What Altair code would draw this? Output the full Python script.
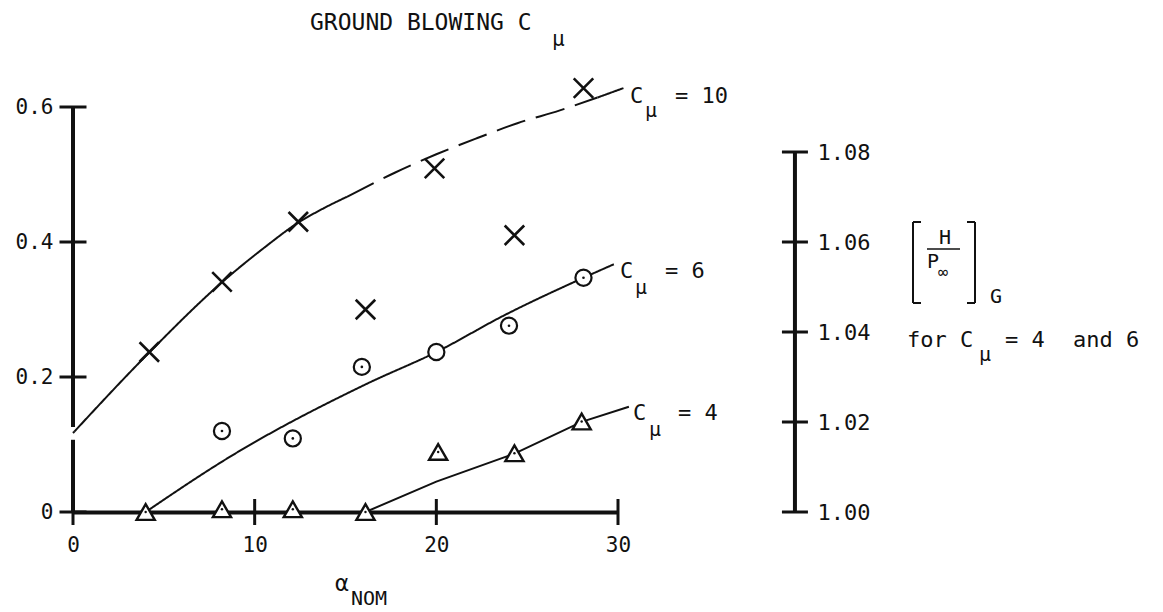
import altair as alt
import pandas as pd

FONT = "DejaVu Sans Mono"
BLACK = "#111111"

# ---------------- data ----------------
# C_mu = 10 (x markers)
X_ALPHA = [4.2, 8.2, 12.4, 16.1, 19.9, 24.3, 28.1]
X_VALUE = [0.237, 0.341, 0.430, 0.300, 0.509, 0.410, 0.628]

# C_mu = 6 (dotted circles)
CIRCLE_ALPHA = [8.2, 12.1, 15.9, 20.0, 24.0, 28.1]
CIRCLE_VALUE = [0.120, 0.109, 0.215, 0.237, 0.276, 0.347]
CIRCLE_DOT = [True, True, True, False, True, True]

# C_mu = 4 (dotted triangles)
TRI_ALPHA = [4.0, 8.2, 12.1, 16.1, 20.1, 24.3, 28.0]
TRI_VALUE = [0.0, 0.004, 0.004, 0.0, 0.089, 0.087, 0.134]

# faired curves
C10_SOLID1_ALPHA = [0.0, 4.24, 8.23, 10.5, 12.36, 13.8, 15.08]
C10_SOLID1_VALUE = [0.117, 0.2375, 0.341, 0.391, 0.428, 0.450, 0.467]
C10_DASHED_ALPHA = [15.08, 17.74, 20.0, 22.26, 24.46, 26.8, 28.87]
C10_DASHED_VALUE = [0.467, 0.503, 0.530, 0.554, 0.576, 0.595, 0.614]
C10_SOLID2_ALPHA = [28.87, 30.3]
C10_SOLID2_VALUE = [0.614, 0.628]

C6_ALPHA = [4.0, 8.65, 16.18, 20.04, 23.71, 28.1, 29.77]
C6_VALUE = [0.0, 0.082, 0.190, 0.2375, 0.291, 0.347, 0.367]

C4_ALPHA = [16.1, 20.0, 24.3, 28.0, 30.6]
C4_VALUE = [0.0, 0.045, 0.0865, 0.1335, 0.156]

# axes
X_TICKS = [0, 10, 20, 30]
Y_TICKS = [0.0, 0.2, 0.4, 0.6]
RIGHT_TICKS = [1.00, 1.02, 1.04, 1.06, 1.08]
Y_AXIS_PIECES_LO = [0.0, 0.126]
Y_AXIS_PIECES_HI = [0.107, 0.6]
RIGHT_AXIS_ALPHA = 39.74   # where the secondary scale stands, in alpha units

# ---------------- layout ----------------
OX, OY = 73, 107          # plot origin in the page
W, H = 545, 405

xscale = alt.Scale(domain=[0, 30], nice=False, zero=False)
yscale = alt.Scale(domain=[0, 0.6], nice=False, zero=False)
rscale = alt.Scale(domain=[1.0, 1.09], nice=False, zero=False)

xaxis = alt.Axis(values=X_TICKS, title=None, grid=False, ticks=False, tickSize=0,
                 domain=True, domainWidth=4, domainColor=BLACK,
                 labelFont=FONT, labelFontSize=21, labelColor=BLACK,
                 labelPadding=22, labelFlush=False)
yaxis = alt.Axis(values=Y_TICKS, title=None, grid=False, ticks=False, tickSize=0,
                 domain=False, labelFont=FONT, labelFontSize=21, labelColor=BLACK,
                 labelPadding=20, labelFlush=False,
                 labelExpr="datum.value == 0 ? '0' : format(datum.value, '.1f')")
raxis = alt.Axis(values=RIGHT_TICKS, title=None, grid=False, ticks=False, tickSize=0,
                 domain=False, orient="right", offset=RIGHT_AXIS_ALPHA * W / 30 - W,
                 labelFont=FONT, labelFontSize=22, labelColor=BLACK,
                 labelPadding=22, labelFlush=False, format=".2f")


def X(f):
    return alt.X(f, scale=xscale, axis=xaxis)


def Y(f):
    return alt.Y(f, scale=yscale, axis=yaxis)


# ---------------- tables ----------------
seg_rows = []
for seg_id, kind, al, vl in [
    ("c10a", "solid", C10_SOLID1_ALPHA, C10_SOLID1_VALUE),
    ("c10b", "dashed", C10_DASHED_ALPHA, C10_DASHED_VALUE),
    ("c10c", "solid", C10_SOLID2_ALPHA, C10_SOLID2_VALUE),
    ("c6", "solid", C6_ALPHA, C6_VALUE),
]:
    for a, v in zip(al, vl):
        seg_rows.append({"a": a, "v": v, "seg": seg_id, "kind": kind})
curves = pd.DataFrame(seg_rows)
c4curve = pd.DataFrame({"a": C4_ALPHA, "v": C4_VALUE})

xpts = pd.DataFrame({"a": X_ALPHA, "v": X_VALUE})
cpts = pd.DataFrame({"a": CIRCLE_ALPHA, "v": CIRCLE_VALUE, "dot": CIRCLE_DOT})
tpts = pd.DataFrame({"a": TRI_ALPHA, "v": TRI_VALUE})
xt = pd.DataFrame({"a": X_TICKS})
yt = pd.DataFrame({"v": Y_TICKS})
yax = pd.DataFrame({"lo": Y_AXIS_PIECES_LO, "hi": Y_AXIS_PIECES_HI})
rt = pd.DataFrame({"v": RIGHT_TICKS})
rax = pd.DataFrame({"lo": [RIGHT_TICKS[0]], "hi": [RIGHT_TICKS[-1]]})

# ---------------- main layers ----------------
yaxis_line = alt.Chart(yax).mark_rule(strokeWidth=4, color=BLACK).encode(
    x=alt.datum(0, scale=xscale, axis=xaxis), y=Y("lo:Q"), y2="hi:Q")

yticks = alt.Chart(yt).mark_tick(orient="horizontal", size=27, thickness=3, color=BLACK,
                                 opacity=1).encode(
    x=alt.datum(0, scale=xscale, axis=xaxis), y=Y("v:Q"))
xticks = alt.Chart(xt).mark_tick(orient="vertical", size=26, thickness=3, color=BLACK,
                                 opacity=1).encode(
    x=X("a:Q"), y=alt.datum(0, scale=yscale, axis=yaxis))

lines = alt.Chart(curves).mark_line(strokeWidth=2, color=BLACK, interpolate="monotone").encode(
    x=X("a:Q"), y=Y("v:Q"), detail="seg:N",
    strokeDash=alt.StrokeDash("kind:N", scale=alt.Scale(domain=["solid", "dashed"],
                                                        range=[[1, 0], [30, 11]]),
                              legend=None))
line4 = alt.Chart(c4curve).mark_line(strokeWidth=2, color=BLACK, interpolate="linear").encode(
    x=X("a:Q"), y=Y("v:Q"))

xmarks = alt.Chart(xpts).mark_point(shape="M-1,-1L1,1M1,-1L-1,1", size=380, filled=False,
                                    stroke=BLACK, strokeWidth=2.6, opacity=1).encode(
    x=X("a:Q"), y=Y("v:Q"))
circles = alt.Chart(cpts).mark_point(shape="circle", size=260, filled=True, fill="white",
                                     stroke=BLACK, strokeWidth=2.2, opacity=1,
                                     fillOpacity=1).encode(x=X("a:Q"), y=Y("v:Q"))
triangles = alt.Chart(tpts).mark_point(shape="triangle-up", size=330, filled=True, fill="white",
                                       stroke=BLACK, strokeWidth=2.4, opacity=1,
                                       fillOpacity=1).encode(x=X("a:Q"), y=Y("v:Q"))
cdots = alt.Chart(cpts).transform_filter("datum.dot").mark_point(
    shape="circle", size=7, filled=True, color=BLACK, opacity=1).encode(x=X("a:Q"), y=Y("v:Q"))
tdots = alt.Chart(tpts).mark_point(shape="circle", size=6, filled=True, color=BLACK,
                                   opacity=1).encode(x=X("a:Q"), y=Y("v:Q"))

main = alt.layer(yaxis_line, xticks, yticks, lines, line4, xmarks, circles, triangles,
                 cdots, tdots)

# ---------------- secondary scale ----------------
r_line = alt.Chart(rax).mark_rule(strokeWidth=4, color=BLACK).encode(
    x=alt.datum(RIGHT_AXIS_ALPHA, scale=xscale, axis=xaxis),
    y=alt.Y("lo:Q", scale=rscale, axis=raxis), y2="hi:Q")
r_ticks = alt.Chart(rt).mark_tick(orient="horizontal", size=26, thickness=3, color=BLACK,
                                  opacity=1).encode(
    x=alt.datum(RIGHT_AXIS_ALPHA, scale=xscale, axis=xaxis),
    y=alt.Y("v:Q", scale=rscale, axis=raxis))
right = alt.layer(r_line, r_ticks)

# ---------------- annotations (page pixel positions) ----------------
ONE = pd.DataFrame({"k": [0]})
ann = []


def text(t, px, py, size, align="left"):
    ann.append(alt.Chart(ONE).mark_text(text=t, font=FONT, fontSize=size, color=BLACK,
                                        align=align, baseline="middle").encode(
        x=alt.value(px - OX), y=alt.value(py - OY)))


def seg(x1, y1, x2, y2, w=2):
    ann.append(alt.Chart(ONE).mark_rule(strokeWidth=w, color=BLACK).encode(
        x=alt.value(x1 - OX), x2=alt.value(x2 - OX), y=alt.value(y1 - OY), y2=alt.value(y2 - OY)))


text("GROUND BLOWING C", 310, 23, 23)
text("μ", 552, 40, 21)

text("α", 335, 584, 23)
text("NOM", 351, 599, 20)

text("C", 630, 96, 22)
text("μ", 645, 111, 20)
text("= 10", 675, 96, 22)
text("C", 620, 271, 22)
text("μ", 635, 288, 20)
text("= 6", 665, 271, 22)
text("C", 633, 413, 22)
text("μ", 649, 430, 20)
text("= 4", 678, 413, 22)

# [H / P_inf]_G
seg(913, 222, 913, 303)
seg(913, 222, 921, 222)
seg(913, 303, 921, 303)
seg(975, 222, 975, 303)
seg(967, 222, 975, 222)
seg(967, 303, 975, 303)
seg(927, 249, 960, 249, 1.6)
text("H", 945, 238, 20, "center")
text("P", 927, 262, 20)
text("∞", 938, 273, 17)
text("G", 990, 297, 20)
text("for C", 907, 340, 22)
text("μ", 979, 355, 20)
text("= 4", 1005, 340, 22)
text("and 6", 1073, 340, 22)

chart = alt.layer(main, right, *ann).resolve_scale(y="independent").properties(
    width=W, height=H,
    autosize=alt.AutoSizeParams(type="none"),
    padding={"left": OX, "top": OY, "right": 1163 - OX - W, "bottom": 612 - OY - H},
    background="white",
).configure_view(stroke=None)

chart.save("out.html", embed_options={"renderer": "svg", "actions": False})
